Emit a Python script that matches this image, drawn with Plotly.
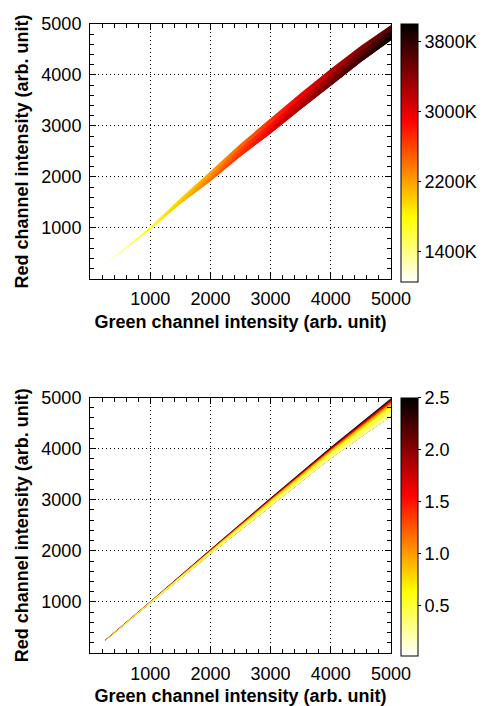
import plotly.graph_objects as go
from plotly.colors import sample_colorscale

# ---------------- data ----------------
# Top panel: band of points, coloured by temperature (K)
TOP_G = [170, 500, 1000, 1500, 2000, 2500, 3000, 3500, 4000, 4500, 5000]
TOP_R_EDGE_UP = [224, 530, 1022, 1580, 2110, 2650, 3150, 3645, 4120, 4575, 4980]
TOP_R_INNER_1 = [221, 523, 1005, 1545, 2045, 2568, 3050, 3540, 4010, 4468, 4880]
TOP_R_INNER_2 = [219, 515, 988, 1510, 1980, 2486, 2950, 3435, 3900, 4362, 4780]
TOP_R_EDGE_LO = [216, 508, 970, 1475, 1915, 2405, 2850, 3330, 3790, 4255, 4680]
TOP_T_UPPER = [1080, 1350, 1700, 1950, 2200, 2450, 2700, 2950, 3200, 3420, 3650]
TOP_T_MIDDLE = [1080, 1380, 1750, 2000, 2300, 2600, 2850, 3100, 3370, 3580, 3800]
TOP_T_LOWER = [1080, 1400, 1780, 2050, 2400, 2700, 3000, 3250, 3530, 3750, 3980]
TOP_T_MIN, TOP_T_MAX = 1050, 4000
TOP_CB_TICKS = [1400, 2200, 3000, 3800]
TOP_CB_TEXT = ["1400K", "2200K", "3000K", "3800K"]

# Bottom panel: iso-parameter lines (red value at each green value)
BOT_G = [250, 1000, 2000, 3000, 4000, 5000]
BOT_P = [0.0, 0.25, 0.5, 0.75, 1.0, 1.5, 2.0, 2.5]
BOT_R_P000 = [238, 975, 1935, 2870, 3810, 4640]
BOT_R_P025 = [242, 984, 1959, 2913, 3865, 4726]
BOT_R_P050 = [245, 993, 1983, 2955, 3920, 4813]
BOT_R_P075 = [247, 998, 1997, 2980, 3953, 4864]
BOT_R_P100 = [248, 1001, 2006, 2998, 3975, 4899]
BOT_R_P150 = [250, 1005, 2017, 3016, 3999, 4937]
BOT_R_P200 = [251, 1008, 2024, 3030, 4017, 4964]
BOT_R_P250 = [252, 1010, 2030, 3040, 4030, 4985]
BOT_P_MIN, BOT_P_MAX = 0.02, 2.5
BOT_CB_TICKS = [0.5, 1.0, 1.5, 2.0, 2.5]

AXIS_TICKS = [1000, 2000, 3000, 4000, 5000]
X_TITLE = "Green channel intensity (arb. unit)"
Y_TITLE = "Red channel intensity (arb. unit)"

# ---------------- styling ----------------
HOT_R = [[0.0, "rgb(255,255,255)"], [0.25, "rgb(255,255,0)"],
         [0.625, "rgb(255,0,0)"], [1.0, "rgb(0,0,0)"]]
FONT = "Liberation Sans, Arial, sans-serif"


def col(v, vmin, vmax):
    f = min(max((v - vmin) / (vmax - vmin), 0.0), 1.0)
    return sample_colorscale(HOT_R, [f])[0]


fig = go.Figure()

# ---- top panel: layered strips with horizontal colour gradients ----
g0, g1 = TOP_G[0], TOP_G[-1]
strips = [(TOP_R_EDGE_UP, TOP_T_UPPER), (TOP_R_INNER_1, TOP_T_MIDDLE), (TOP_R_INNER_2, TOP_T_LOWER)]
for upper, temps in strips:
    cs = [[(g - g0) / (g1 - g0), col(t, TOP_T_MIN, TOP_T_MAX)] for g, t in zip(TOP_G, temps)]
    fig.add_trace(go.Scatter(
        x=TOP_G + TOP_G[::-1], y=upper + TOP_R_EDGE_LO[::-1],
        mode="none", fill="toself",
        fillgradient=dict(type="horizontal", colorscale=cs, start=g0, stop=g1),
        xaxis="x", yaxis="y", hoverinfo="skip", showlegend=False))

fig.add_trace(go.Scatter(
    x=TOP_G, y=TOP_R_INNER_1, mode="markers",
    marker=dict(color=TOP_T_MIDDLE, colorscale=HOT_R, cmin=TOP_T_MIN, cmax=TOP_T_MAX,
                opacity=0, size=1, showscale=True,
                colorbar=dict(x=1.034, xanchor="left", xpad=0, y=1.0, yanchor="top", ypad=0,
                              len=258, lenmode="pixels", thickness=17,
                              outlinewidth=1, outlinecolor="black",
                              tickvals=TOP_CB_TICKS, ticktext=TOP_CB_TEXT,
                              ticks="outside", ticklen=3, tickcolor="black",
                              tickfont=dict(size=18, color="black", family=FONT))),
    xaxis="x", yaxis="y", hoverinfo="skip", showlegend=False))

# ---- bottom panel: strips between iso-parameter lines ----
bot_lines = [BOT_R_P000, BOT_R_P025, BOT_R_P050, BOT_R_P075,
             BOT_R_P100, BOT_R_P150, BOT_R_P200, BOT_R_P250]
for k in range(len(bot_lines) - 1, 0, -1):
    pstrip = BOT_P[k]
    fig.add_trace(go.Scatter(
        x=BOT_G + BOT_G[::-1], y=bot_lines[k] + bot_lines[0][::-1],
        mode="none", fill="toself", fillcolor=col(pstrip, BOT_P_MIN, BOT_P_MAX),
        xaxis="x2", yaxis="y2", hoverinfo="skip", showlegend=False))

fig.add_trace(go.Scatter(
    x=BOT_G, y=BOT_R_P250, mode="markers",
    marker=dict(color=[BOT_P_MAX] * len(BOT_G), colorscale=HOT_R, cmin=BOT_P_MIN, cmax=BOT_P_MAX,
                opacity=0, size=1, showscale=True,
                colorbar=dict(x=1.034, xanchor="left", xpad=0, y=0.4062, yanchor="top", ypad=0,
                              len=258, lenmode="pixels", thickness=17,
                              outlinewidth=1, outlinecolor="black",
                              tickvals=BOT_CB_TICKS, tickformat=".1f",
                              ticks="outside", ticklen=3, tickcolor="black",
                              tickfont=dict(size=18, color="black", family=FONT))),
    xaxis="x2", yaxis="y2", hoverinfo="skip", showlegend=False))


def axis(domain, anchor, title, is_x):
    return dict(
        domain=domain, anchor=anchor, range=[0, 5000],
        tickvals=AXIS_TICKS, ticks="inside", ticklen=6, tickcolor="black",
        minor=dict(ticks="inside", dtick=200, tick0=0, ticklen=4, tickcolor="black", showgrid=False),
        showgrid=True, gridcolor="black", griddash="1px,3px", gridwidth=1,
        showline=True, linecolor="black", linewidth=1, mirror="ticks",
        zeroline=False, ticklabelstandoff=4,
        tickfont=dict(size=18, color="black", family=FONT),
        title=dict(text=title, standoff=6 if is_x else 8,
                   font=dict(size=18, color="black", family=FONT, weight="bold")))


fig.update_layout(
    width=483, height=706,
    margin=dict(l=90, r=92, t=24, b=53, autoexpand=False),
    paper_bgcolor="white", plot_bgcolor="white",
    showlegend=False, hovermode=False,
    xaxis=axis([0, 1], "y", X_TITLE, True),
    yaxis=axis([0.5948, 1], "x", Y_TITLE, False),
    xaxis2=axis([0, 1], "y2", X_TITLE, True),
    yaxis2=axis([0, 0.4062], "x2", Y_TITLE, False),
)

fig.write_html("out.html")
